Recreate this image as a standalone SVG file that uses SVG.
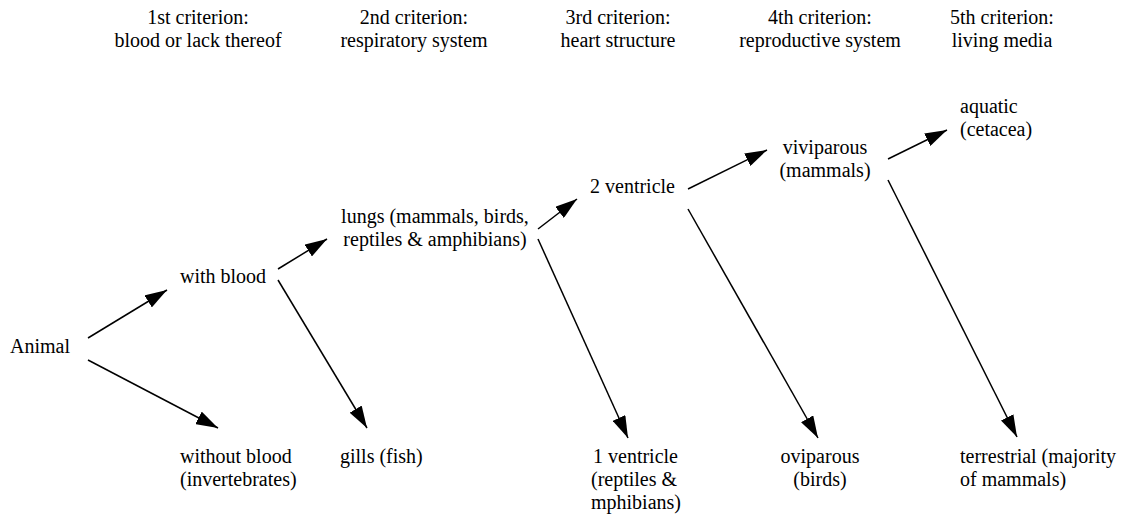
<svg xmlns="http://www.w3.org/2000/svg" width="1128" height="515" viewBox="0 0 1128 515">
<style>
text { font-family: "Liberation Serif", "Times New Roman", serif; font-size: 20px; fill: #000; }
.m { text-anchor: middle; }
.c { stroke: #000; stroke-width: 1.5; fill: none; marker-end: url(#ah); }
</style>
<defs>
<marker id="ah" markerUnits="userSpaceOnUse" markerWidth="22" markerHeight="14" refX="22" refY="7" orient="auto">
<path d="M0,0 L22,7 L0,14 z" fill="#000"/>
</marker>
</defs>
<rect width="1128" height="515" fill="#fff"/>
<g id="headers">
<text class="m" x="198" y="24">1st criterion:</text>
<text class="m" x="198" y="47">blood or lack thereof</text>
<text class="m" x="414" y="24">2nd criterion:</text>
<text class="m" x="414" y="47">respiratory system</text>
<text class="m" x="618" y="24">3rd criterion:</text>
<text class="m" x="618" y="47">heart structure</text>
<text class="m" x="820" y="24">4th criterion:</text>
<text class="m" x="820" y="47">reproductive system</text>
<text class="m" x="1002" y="24">5th criterion:</text>
<text class="m" x="1002" y="47">living media</text>
</g>
<g id="connectors">
<line class="c" x1="88" y1="338" x2="167" y2="290"/>
<line class="c" x1="88" y1="360" x2="218" y2="428"/>
<line class="c" x1="278" y1="269" x2="327" y2="239"/>
<line class="c" x1="278" y1="280" x2="367" y2="428"/>
<line class="c" x1="538" y1="229" x2="577" y2="199"/>
<line class="c" x1="538" y1="239" x2="628" y2="438"/>
<line class="c" x1="688" y1="189" x2="767" y2="150"/>
<line class="c" x1="688" y1="209" x2="818" y2="438"/>
<line class="c" x1="888" y1="159" x2="947" y2="130"/>
<line class="c" x1="888" y1="180" x2="1017" y2="437"/>
</g>
<g id="animal"><text x="10" y="353">Animal</text></g>
<g id="with-blood"><text x="180" y="283">with blood</text></g>
<g id="without-blood"><text x="180" y="463">without blood</text><text x="180" y="486">(invertebrates)</text></g>
<g id="gills"><text x="340" y="463">gills (fish)</text></g>
<g id="lungs"><text class="m" x="435" y="223">lungs (mammals, birds,</text><text class="m" x="435" y="246">reptiles &amp; amphibians)</text></g>
<g id="two-ventricle"><text x="590" y="193">2 ventricle</text></g>
<g id="one-ventricle"><text x="593" y="463">1 ventricle</text><text x="591" y="486">(reptiles &amp;</text><text x="591" y="509">mphibians)</text></g>
<g id="viviparous"><text class="m" x="825" y="154">viviparous</text><text class="m" x="825" y="177">(mammals)</text></g>
<g id="oviparous"><text class="m" x="820" y="463">oviparous</text><text class="m" x="820" y="486">(birds)</text></g>
<g id="aquatic"><text x="960" y="113">aquatic</text><text x="960" y="136">(cetacea)</text></g>
<g id="terrestrial"><text x="960" y="463">terrestrial (majority</text><text x="960" y="486">of mammals)</text></g>
</svg>
